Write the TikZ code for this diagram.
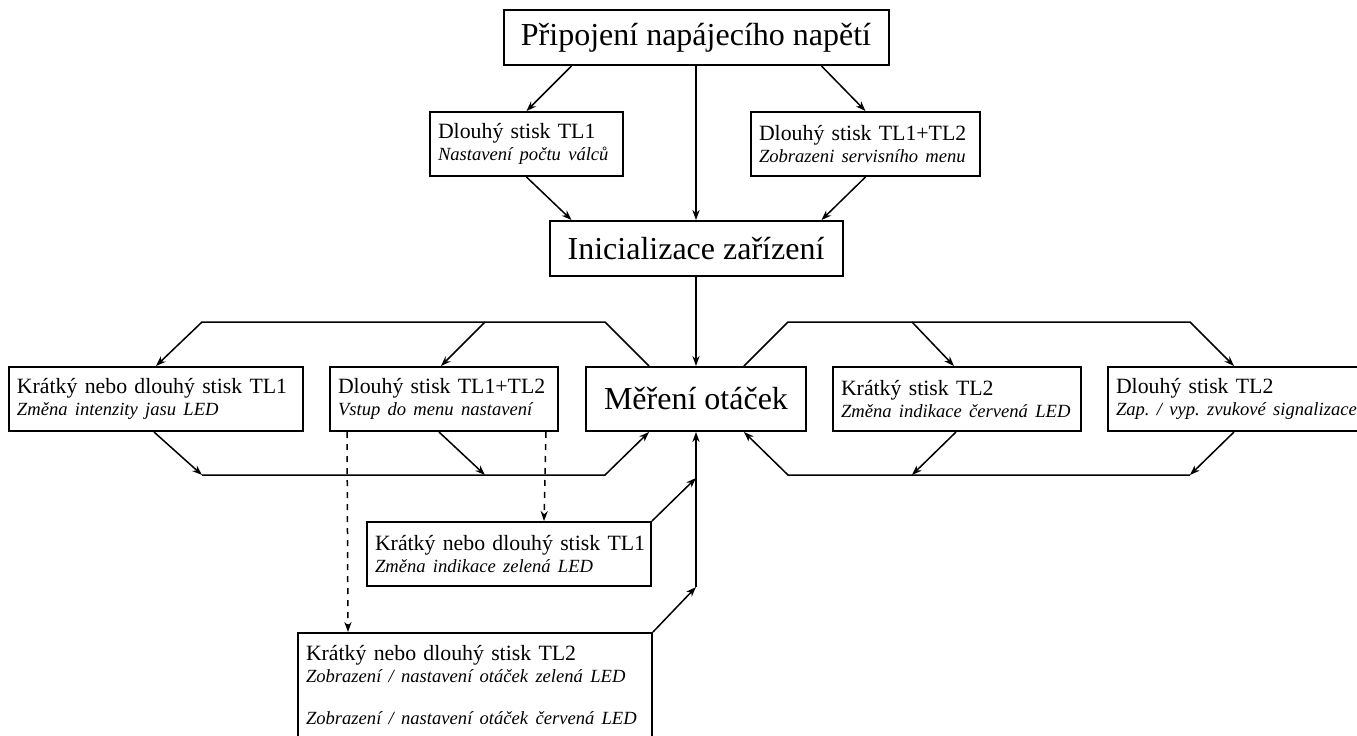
\documentclass[tikz,border=0pt]{standalone}
\usepackage{fontspec}
\setmainfont{Liberation Serif}
\usetikzlibrary{positioning, arrows.meta}
\tikzset{>={Stealth[length=5pt, width=3.6pt]}, % sharp arrow heads
box/.style={draw, line width=1pt, inner xsep=4pt, inner ysep=0pt}, % every framed block
bigbox/.style={box, font=\fontsize{16}{18}\selectfont, align=center}, % main states
keybox/.style={box, minimum height=32pt, align=left, font=\fontsize{10.9}{11}\selectfont}, % key press blocks
flow/.style={->, line width=0.75pt}, % connectors
}
\frenchspacing
\newcommand{\popis}[1]{\mbox{\fontsize{9.3}{11}\selectfont\itshape #1}}
\newcommand{\stisk}[2]{\mbox{#1}\\\popis{#2}}

\begin{document}
\begin{tikzpicture}[x=0.5pt, y=-0.5pt]
    \clip (0,0) rectangle (1357,735);
    \node[bigbox, minimum width=192.5pt, minimum height=27.5pt] (pn) at (696,37.5) {Připojení napájecího napětí};
    \node[keybox, text width=88.5pt] (d1) at (526.5,144) {\stisk{Dlouhý stisk TL1}{Nastavení počtu válců}};
    \node[keybox, text width=106.5pt] (dd) at (865.5,144) {\stisk{Dlouhý stisk TL1+TL2}{Zobrazeni servisního menu}};
    \node[bigbox, minimum width=146.5pt, minimum height=27.5pt] (ini) at (696,248.5) {Inicializace zařízení};
    \node[keybox, text width=139pt] (k1) at (156,399) {\stisk{Krátký nebo dlouhý stisk TL1}{Změna intenzity jasu LED}};
    \node[keybox, text width=106pt] (vm) at (444,399) {\stisk{Dlouhý stisk TL1+TL2}{Vstup do menu nastavení}};
    \node[bigbox, minimum width=110pt, minimum height=32pt] (mo) at (696,399) {Měření otáček};
    \node[keybox, text width=116pt] (k2) at (957,399) {\stisk{Krátký stisk TL2}{Změna indikace červená LED}};
    \node[keybox, text width=130.5pt] (d2) at (1246.5,399) {\stisk{Dlouhý stisk TL2}{Zap. / vyp. zvukové signalizace}};
    \node[keybox, text width=134pt] (z1) at (509,554) {\stisk{Krátký nebo dlouhý stisk TL1}{Změna indikace zelená LED}};
    \node[keybox, text width=169pt, anchor=north west, inner ysep=6pt, text depth=40pt] (z2) at (297,632)
        {\stisk{Krátký nebo dlouhý stisk TL2}{Zobrazení / nastavení otáček zelená LED}\\[10pt]\popis{Zobrazení / nastavení otáček červená LED}};

    \coordinate (ula) at (605,322);
    \coordinate (ulb) at (202,322);
    \coordinate (ulc) at (485,322);
    \coordinate (lla) at (605,475);
    \coordinate (llb) at (202,475);
    \coordinate (llc) at (485,475);
    \coordinate (ura) at (788,322);
    \coordinate (urb) at (1190,322);
    \coordinate (urc) at (912,322);
    \coordinate (lra) at (788,475);
    \coordinate (lrb) at (1190,475);
    \coordinate (lrc) at (912,475);
    \coordinate (va) at (696,478);
    \coordinate (vb) at (696,587);

    \draw[flow] ([shift={(69,0)}]pn.south west) -- (d1.north);
    \draw[flow] (pn) -- (ini);
    \draw[flow] ([shift={(-68,0)}]pn.south east) -- (dd.north);
    \draw[flow] (d1.south) -- ([shift={(23,0)}]ini.north west);
    \draw[flow] (dd.south) -- ([shift={(-22,0)}]ini.north east);
    \draw[flow] (ini) -- (mo);

    \draw[flow] ([shift={(64,0)}]mo.north west) -- (ula) -- (ulb) -- ([shift={(148,0)}]k1.north west);
    \draw[flow] (ulc) -- ([shift={(112,0)}]vm.north west);
    \draw[flow] ([shift={(146,0)}]k1.south west) -- (llb);
    \draw[flow] ([shift={(110,0)}]vm.south west) -- (llc);
    \draw[flow] (llb) -- (lla) -- ([shift={(64,0)}]mo.south west);

    \draw[flow] ([shift={(-63,0)}]mo.north east) -- (ura) -- (urb) -- ([shift={(127,0)}]d2.north west);
    \draw[flow] (urc) -- ([shift={(122,0)}]k2.north west);
    \draw[flow] ([shift={(124,0)}]k2.south west) -- (lrc);
    \draw[flow] ([shift={(127,0)}]d2.south west) -- (lrb);
    \draw[flow] (lrb) -- (lra) -- ([shift={(-63,0)}]mo.south east);

    \draw[flow] (vb) -- (mo);
    \draw[flow] (z1.north east) -- (va);
    \draw[flow] (z2.north east) -- (vb);
    \draw[flow, dashed] ([shift={(18,0)}]vm.south west) -- ([shift={(51,0)}]z2.north west);
    \draw[flow, dashed] ([shift={(-13,0)}]vm.south east) -- ([shift={(178,0)}]z1.north west);
\end{tikzpicture}
\end{document}
